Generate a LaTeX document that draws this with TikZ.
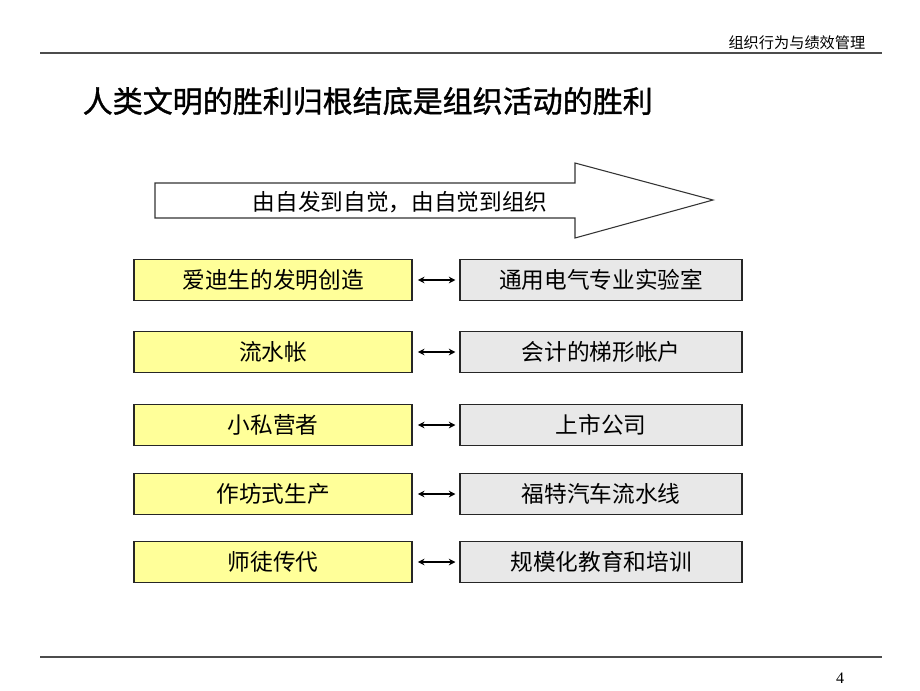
\documentclass[tikz,border=0pt]{standalone}
\usepackage{fontspec}
\newfontfamily\cjk{Noto Sans CJK SC}
\newfontfamily\cjkheavy[FakeBold=1.2]{Noto Sans CJK SC}
\newfontfamily\numfont{Liberation Serif}
\definecolor{paleyellow}{RGB}{255,255,153}
\definecolor{palegray}{RGB}{232,232,232}
\usetikzlibrary{arrows.meta}
\tikzset{
	oldbox/.style={draw=black!85, line width=0.8pt, fill=paleyellow, minimum width=208.5pt, minimum height=31pt, inner sep=0pt, font=\cjk\fontsize{17}{20}\selectfont},
	newbox/.style={draw=black!85, line width=0.8pt, fill=palegray, minimum width=211.5pt, minimum height=31pt, inner sep=0pt, font=\cjk\fontsize{17}{20}\selectfont},
	link/.style={{Stealth[length=5pt,width=5pt]}-{Stealth[length=5pt,width=5pt]}, line width=0.8pt}
}
\begin{document}
\begin{tikzpicture}[x=0.75pt, y=-0.75pt]
	\useasboundingbox[fill=white] (0,0) rectangle (920,690);
	% header
	\draw[black!70, line width=1pt] (40,53) -- (882,53);
	\node[anchor=base east, font=\cjk\fontsize{11.4}{13}\selectfont] (header) at (870,48) {组织行为与绩效管理};
	\node[anchor=west, font=\cjkheavy\fontsize{22.5}{26}\selectfont] (title) at (78,101) {人类文明的胜利归根结底是组织活动的胜利};
	% big arrow
	\draw[black!80, line width=0.8pt, fill=white] (155,183) -- (575,183) -- (575,163) -- (713,200) -- (575,238) -- (575,218) -- (155,218) -- cycle;
	\node[font=\cjk\fontsize{17}{20}\selectfont] (trend) at (400,202) {由自发到自觉，由自觉到组织};
	% rows
	\foreach \y/\old/\new [count=\i] in {280/爱迪生的发明创造/通用电气专业实验室, 352/流水帐/会计的梯形帐户, 425/小私营者/上市公司, 494/作坊式生产/福特汽车流水线, 562/师徒传代/规模化教育和培训}
	{
		\node[oldbox] (old\i) at (273,\y) {\old};
		\node[newbox] (new\i) at (601,\y) {\new};
		\draw[link] ([xshift=4pt]old\i.east) -- ([xshift=-3pt]new\i.west);
	}
	% footer
	\draw[black!70, line width=1pt] (40,657) -- (882,657);
	\node[font=\numfont\fontsize{12}{14}\selectfont] (page) at (840,678) {4};
\end{tikzpicture}
\end{document}
